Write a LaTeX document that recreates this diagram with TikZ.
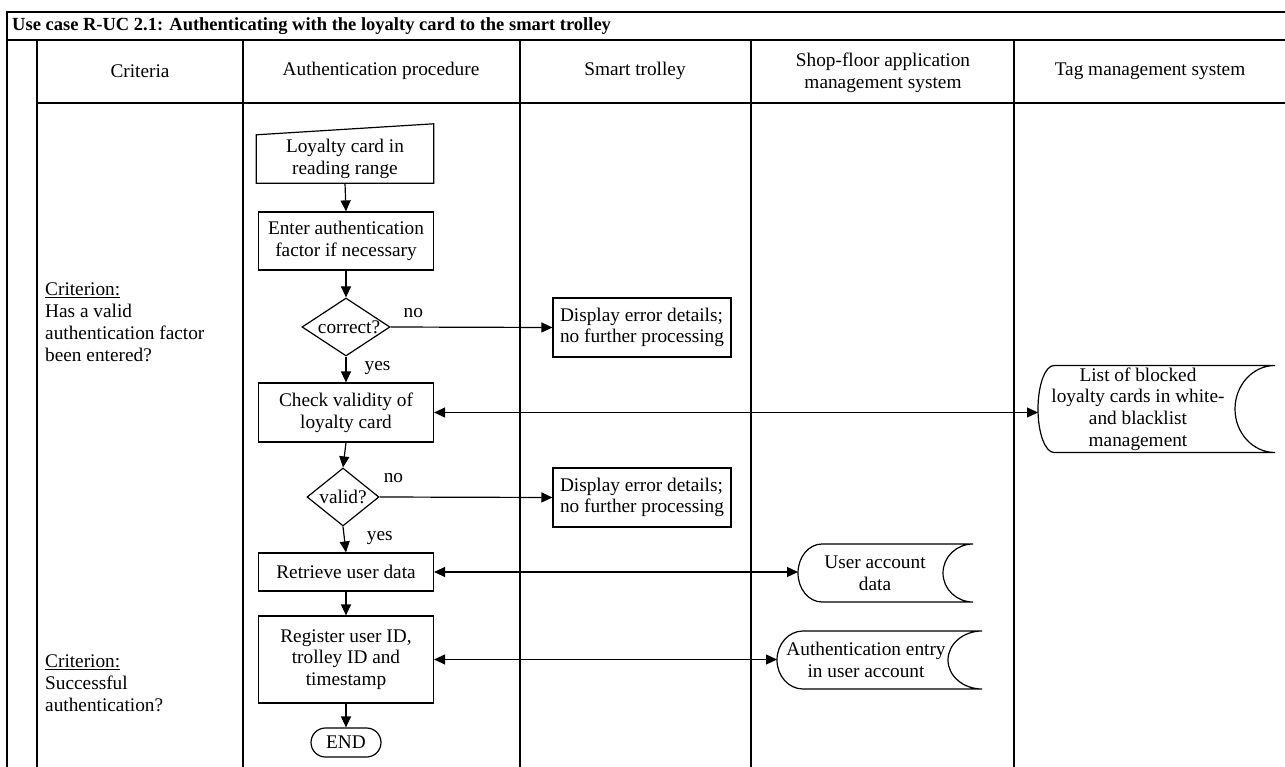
\documentclass[tikz,border=0pt]{standalone}
\usepackage{fontspec}
\setmainfont{Liberation Serif}
\usetikzlibrary{arrows.meta,shapes.geometric,shapes.misc,calc}

% outline of a "stored data" symbol: left tip x, right x, centre y, half height, left bulge, right notch
\newcommand{\storeoutline}[6]{%
  \draw[store] ({#1+#5},{#3-#4}) arc[start angle=90,end angle=270,x radius=#5pt,y radius=#4pt]
    -- ({#2},{#3+#4}) arc[start angle=270,end angle=90,x radius=#6pt,y radius=#4pt] -- cycle;}

\begin{document}
\begin{tikzpicture}[x=1pt,y=-1pt,
  every node/.style={font=\fontsize{19.3}{21.7}\selectfont, inner sep=0pt},
  stepbox/.style={draw, line width=1.2pt, align=center, minimum width=175pt},
  decision/.style={draw, diamond, line width=1.2pt, inner sep=0pt},
  flow/.style={line width=1.2pt, -{Triangle[length=11pt,width=10pt]}},
  dflow/.style={line width=1.2pt, {Triangle[length=11pt,width=10pt]}-{Triangle[length=11pt,width=10pt]}},
  grid/.style={line width=1.5pt},
  store/.style={line width=1.2pt},
  lbl/.style={inner sep=0pt}
]
\useasboundingbox (0,0) rectangle (1285,767);

% table frame and lanes
\draw[grid] (1285,12) -- (7,12) -- (7,767);
\draw[grid] (7,40) -- (1285,40);
\draw[grid] (37,40) -- (37,767);
\draw[grid] (37,103) -- (1285,103);
\foreach \x in {243,520,751,1014} \draw[grid] (\x,40) -- (\x,767);

% title and lane headers
\node[anchor=west, font=\bfseries\fontsize{18.5}{20}\selectfont] (title) at (12,26)
  {Use case R-UC 2.1: Authenticating with the loyalty card to the smart trolley};
\node (hcrit) at (140,71) {Criteria};
\node (hauth) at (381,71) {Authentication procedure};
\node (htrol) at (635,71) {Smart trolley};
\node[align=center] (hshop) at (883,73) {Shop-floor application\\management system};
\node (htag) at (1150,71) {Tag management system};

% criteria
\node[anchor=north west, align=left] (crit1) at (45,283)
  {\underline{Criterion:}\\Has a valid\\authentication factor\\been entered?};
\node[anchor=north west, align=left] (crit2) at (45,655)
  {\underline{Criterion:}\\Successful\\authentication?};

% procedure steps
\node[align=center, minimum width=177pt, minimum height=48pt] (loyalty) at (345,159)
  {Loyalty card in\\reading range};
\draw[line width=1.2pt] (loyalty.south west) -- (loyalty.north west)
  -- ([yshift=11pt]loyalty.north east) -- (loyalty.south east) -- cycle;
\node[stepbox, minimum height=58pt] (enter) at (346,241)
  {Enter authentication\\factor if necessary};
\node[decision, minimum width=88pt, minimum height=58pt] (correct) at (346,327)
  {\makebox[0pt]{\hspace{6pt}correct?}};
\node[stepbox, align=left, minimum width=178pt, minimum height=59pt] (disp1) at (642,327.5)
  {Display error details;\\no further processing};
\node[stepbox, minimum height=59pt] (check) at (346,412.5)
  {Check validity of\\loyalty card};
\node[decision, minimum width=72pt, minimum height=58pt] (valid) at (343,497)
  {\makebox[0pt]{valid?}};
\node[stepbox, align=left, minimum width=178pt, minimum height=59pt] (disp2) at (642,497.5)
  {Display error details;\\no further processing};
\node[stepbox, minimum height=38pt] (retrieve) at (346,572)
  {Retrieve user data};
\node[stepbox, minimum height=87pt] (register) at (346,659.5)
  {Register user ID,\\trolley ID and\\timestamp};
\node[draw, rounded rectangle, line width=1.2pt, minimum width=70pt, minimum height=29pt] (endn) at (346,742.5)
  {END};

% data stores
\node[align=center] (uad) at (875,573) {User account\\data};
\coordinate (uadL) at (798,573);
\storeoutline{798}{973}{573}{29}{24}{30}
\node[align=center] (ae) at (866,660) {Authentication entry\\in user account};
\coordinate (aeL) at (777,660);
\storeoutline{777}{982}{660}{29}{26}{34}
\node[align=center] (list) at (1138,409)
  {List of blocked\\loyalty cards in white-\\and blacklist\\management};
\coordinate (listL) at (1038,409);
\storeoutline{1038}{1275}{409}{43.5}{16}{40}

% control flow
\draw[flow] (loyalty.south) -- (enter.north);
\draw[flow] (enter.south) -- (correct.north);
\draw[flow] (correct.east) -- (disp1.west) node[lbl, pos=0.14, above=9pt] {no};
\draw[flow] (correct.south) -- (check.north) node[lbl, pos=0.45, right=18pt] {yes};
\draw[flow] (check.south) -- (valid.north);
\draw[flow] (valid.east) -- (disp2.west) node[lbl, pos=0.08, above=14pt] {no};
\draw[flow] (valid.south) -- (retrieve.north) node[lbl, pos=0.45, right=22pt] {yes};
\draw[flow] (retrieve.south) -- (register.north);
\draw[flow] (register.south) -- (endn.north);

% data exchanges
\draw[dflow] (check.east) -- (check.east -| listL);
\draw[dflow] (retrieve.east) -- (retrieve.east -| uadL);
\draw[dflow] (register.east) -- (register.east -| aeL);
\end{tikzpicture}
\end{document}
